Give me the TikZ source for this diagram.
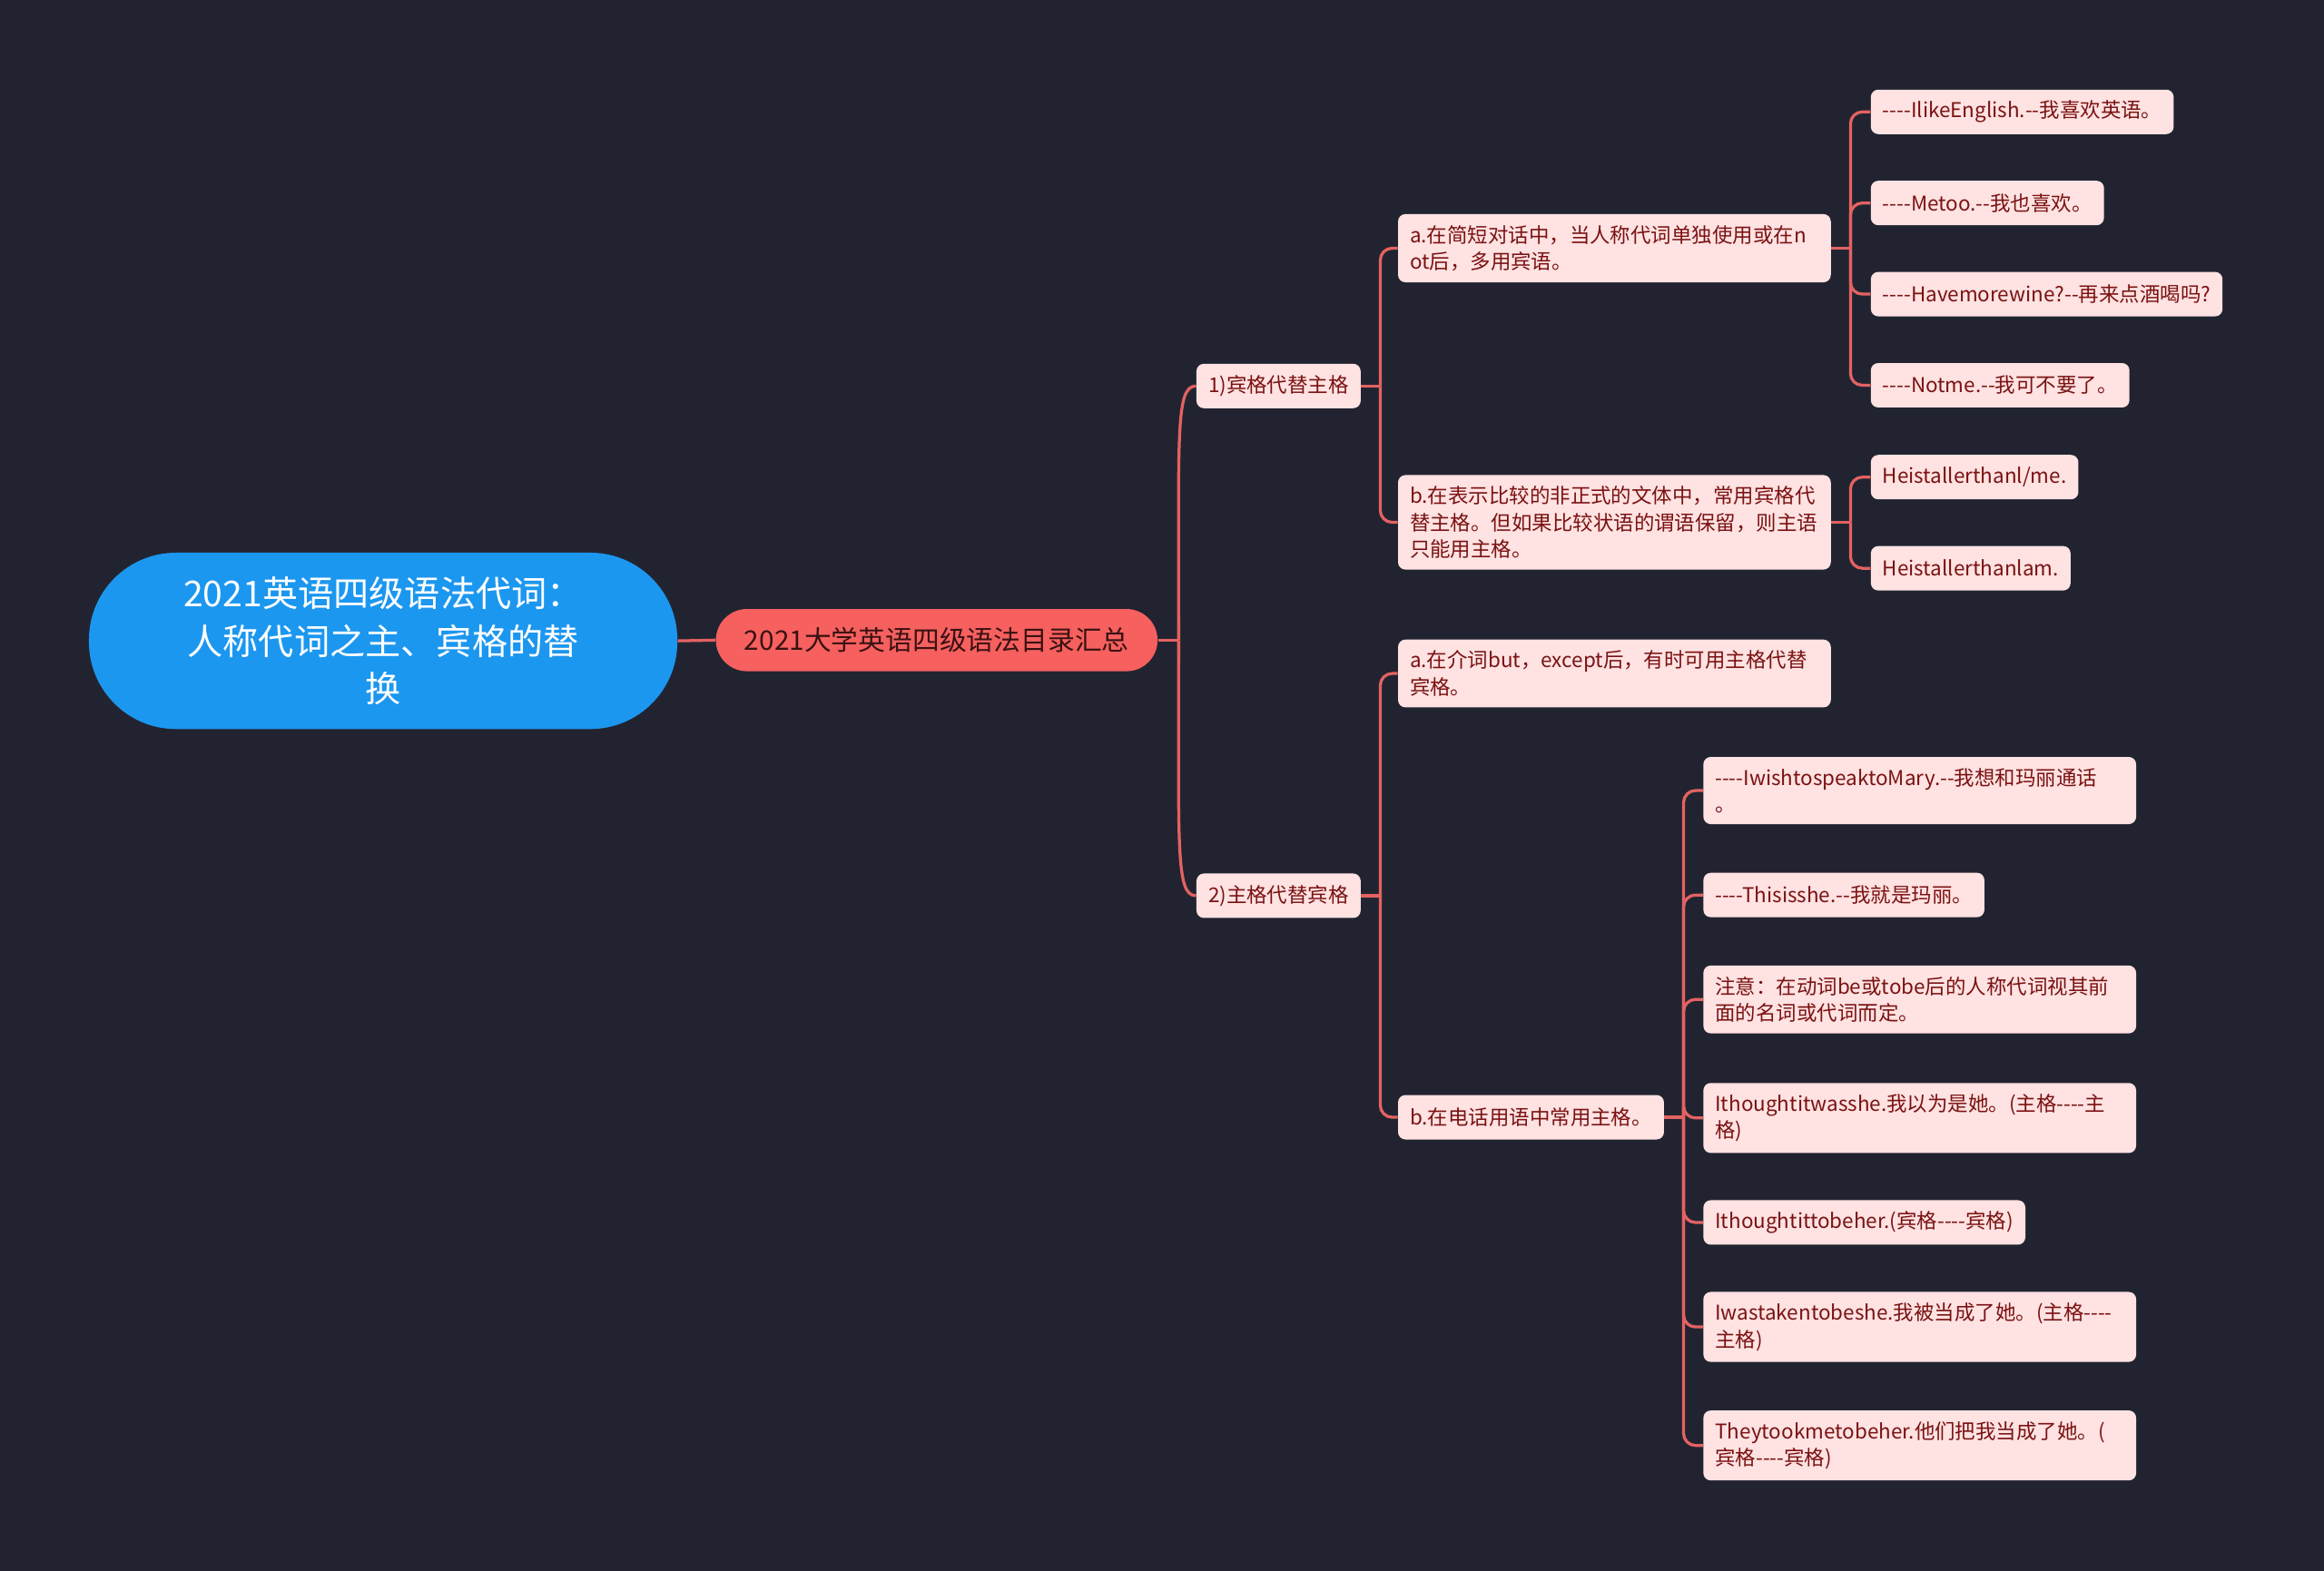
\documentclass[tikz,border=0pt]{standalone}
\usepackage{fontspec}
\setmainfont{Noto Sans CJK SC}
\definecolor{bgdark}{RGB}{33,36,48}
\definecolor{rootblue}{RGB}{28,151,240}
\definecolor{mainred}{RGB}{246,96,95}
\definecolor{linered}{RGB}{228,98,98}
\definecolor{leafpink}{RGB}{255,226,226}
\definecolor{leaftext}{RGB}{122,18,18}
\definecolor{maintext}{RGB}{58,18,18}
\tikzset{
  rootbox/.style={fill=rootblue, text=white, rounded corners=47pt, minimum width=317.6pt, minimum height=95.2pt, align=center, font=\fontsize{19.2}{25.6}\selectfont},
  mainbox/.style={fill=mainred, text=maintext, rounded corners=16.8pt, minimum width=238.4pt, minimum height=33.6pt, font=\fontsize{14.6}{18}\selectfont},
  leafbox/.style={fill=leafpink, text=leaftext, rounded corners=4pt, inner xsep=6.4pt, inner ysep=6pt, minimum height=24pt, anchor=west, font=\fontsize{11}{14.4}\selectfont},
  widebox/.style={leafbox, text width=220.8pt, align=left},
  link/.style={draw=linered, line width=1.6pt},
  branch/.style={link, rounded corners=6.4pt},
}
\begin{document}
\begin{tikzpicture}[x=0.8pt,y=0.8pt,yscale=-1]
  \fill[bgdark] (0,0) rectangle (1568,1060);

  % root and main topic
  \node[rootbox] (root) at (258.5,432.5) {2021英语四级语法代词：\\人称代词之主、宾格的替\\换};
  \node[mainbox] (main) at (632,432) {2021大学英语四级语法目录汇总};

  % second level
  \node[leafbox] (obj) at (807,260.5) {1)宾格代替主格};
  \node[leafbox] (subj) at (807,604.5) {2)主格代替宾格};

  % under 1)
  \node[widebox] (oa) at (943,167.5) {a.在简短对话中，当人称代词单独使用或在n\\ot后，多用宾语。};
  \node[widebox] (ob) at (943,352.5) {b.在表示比较的非正式的文体中，常用宾格代\\替主格。但如果比较状语的谓语保留，则主语\\只能用主格。};
  \node[leafbox] (oa1) at (1262,75.5) {-{}-{}-{}-IlikeEnglish.-{}-我喜欢英语。};
  \node[leafbox] (oa2) at (1262,137) {-{}-{}-{}-Metoo.-{}-我也喜欢。};
  \node[leafbox] (oa3) at (1262,198.5) {-{}-{}-{}-Havemorewine?-{}-再来点酒喝吗?};
  \node[leafbox] (oa4) at (1262,260) {-{}-{}-{}-Notme.-{}-我可不要了。};
  \node[leafbox] (ob1) at (1262,322) {Heistallerthanl/me.};
  \node[leafbox] (ob2) at (1262,383.5) {Heistallerthanlam.};

  % under 2)
  \node[widebox] (sa) at (943,454.5) {a.在介词but，except后，有时可用主格代替\\宾格。};
  \node[leafbox] (sb) at (943,754) {b.在电话用语中常用主格。};
  \node[widebox] (sb1) at (1149,533.5) {-{}-{}-{}-IwishtospeaktoMary.-{}-我想和玛丽通话\\。};
  \node[leafbox] (sb2) at (1149,604) {-{}-{}-{}-Thisisshe.-{}-我就是玛丽。};
  \node[widebox] (sb3) at (1149,674.5) {注意：在动词be或tobe后的人称代词视其前\\面的名词或代词而定。};
  \node[widebox] (sb4) at (1149,754.5) {Ithoughtitwasshe.我以为是她。(主格-{}-{}-{}-主\\格)};
  \node[leafbox] (sb5) at (1149,825) {Ithoughtittobeher.(宾格-{}-{}-{}-宾格)};
  \node[widebox] (sb6) at (1149,895.5) {Iwastakentobeshe.我被当成了她。(主格-{}-{}-{}-\\主格)};
  \node[widebox] (sb7) at (1149,975.5) {Theytookmetobeher.他们把我当成了她。(\\宾格-{}-{}-{}-宾格)};

  % links
  \draw[link] (root.east) -- (main.west);
  \coordinate (mainj) at ([xshift=11.2pt]main.east);
  \draw[link] (main.east) -- (mainj);
  \draw[link] (mainj) .. controls +(0,-140) and +(-14,0) .. (obj.west);
  \draw[link] (mainj) .. controls +(0,140) and +(-14,0) .. (subj.west);

  \coordinate (objj) at ([xshift=10.4pt]obj.east);
  \draw[link] (obj.east) -- (objj);
  \draw[branch] (objj) |- (oa.west);
  \draw[branch] (objj) |- (ob.west);

  \coordinate (oaj) at ([xshift=10.4pt]oa.east);
  \draw[link] (oa.east) -- (oaj);
  \draw[branch] (oaj) |- (oa1.west);
  \draw[branch] (oaj) |- (oa2.west);
  \draw[branch] (oaj) |- (oa3.west);
  \draw[branch] (oaj) |- (oa4.west);

  \coordinate (obj) at ([xshift=10.4pt]ob.east);
  \draw[link] (ob.east) -- (obj);
  \draw[branch] (obj) |- (ob1.west);
  \draw[branch] (obj) |- (ob2.west);

  \coordinate (subjj) at ([xshift=10.4pt]subj.east);
  \draw[link] (subj.east) -- (subjj);
  \draw[branch] (subjj) |- (sa.west);
  \draw[branch] (subjj) |- (sb.west);

  \coordinate (sbj) at ([xshift=10.4pt]sb.east);
  \draw[link] (sb.east) -- (sbj);
  \draw[branch] (sbj) |- (sb1.west);
  \draw[branch] (sbj) |- (sb2.west);
  \draw[branch] (sbj) |- (sb3.west);
  \draw[branch] (sbj) |- (sb4.west);
  \draw[branch] (sbj) |- (sb5.west);
  \draw[branch] (sbj) |- (sb6.west);
  \draw[branch] (sbj) |- (sb7.west);
\end{tikzpicture}
\end{document}
